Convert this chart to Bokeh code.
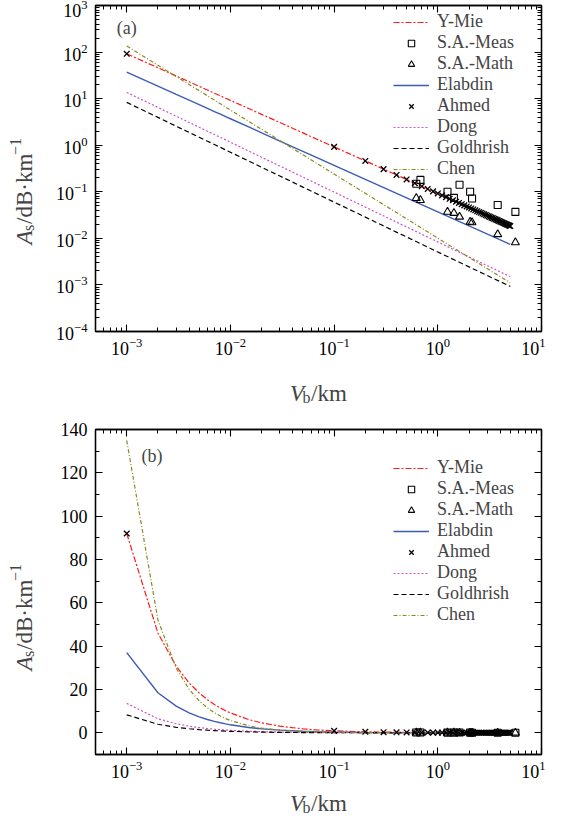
import math
from bokeh.plotting import figure
from bokeh.models import LogAxis, LinearAxis, FixedTicker, Label, Legend, LegendItem
from bokeh.layouts import column, row
from bokeh.embed import file_html
from bokeh.resources import INLINE

# ---------------- data ----------------
line_x = [0.001, 0.002, 0.003, 0.004, 0.005, 0.006, 0.007, 0.008, 0.009, 0.01,
          0.015, 0.02, 0.03, 0.05, 0.07, 0.1, 0.2, 0.5, 1.0, 2.0, 5.0]
ymie = [92, 46, 30.7, 23, 18.4, 15.3, 13.1, 11.5, 10.2, 9.2,
        6.13, 4.6, 3.07, 1.84, 1.31, 0.92, 0.46, 0.184, 0.092, 0.046, 0.0184]
elabdin = [37, 18.5, 12.3, 9.25, 7.4, 6.17, 5.29, 4.63, 4.11, 3.7,
           2.47, 1.85, 1.23, 0.74, 0.529, 0.37, 0.185, 0.074, 0.037, 0.0185, 0.0074]
dong = [13.6, 6.48, 4.20, 3.08, 2.43, 2.00, 1.70, 1.47, 1.30, 1.157,
        0.750, 0.551, 0.357, 0.207, 0.144, 0.0985, 0.0469, 0.0176, 0.00839, 0.00399, 0.0015]
goldhrish = [8.3, 3.96, 2.56, 1.88, 1.48, 1.22, 1.04, 0.90, 0.79, 0.706,
             0.458, 0.336, 0.218, 0.126, 0.088, 0.060, 0.0286, 0.0107, 0.0051, 0.00244, 0.00093]
chen = [135, 52.1, 29.8, 20.1, 14.8, 11.5, 9.30, 7.74, 6.58, 5.69,
        3.26, 2.195, 1.257, 0.623, 0.392, 0.240, 0.0926, 0.0263, 0.0101, 0.0039, 0.00111]

sa_x = [0.62, 0.68, 1.24, 1.43, 1.62, 2.05, 2.14, 3.78, 5.6]
sa_meas = [0.149, 0.18, 0.10, 0.074, 0.142, 0.10, 0.072, 0.052, 0.037]
sa_math = [0.073, 0.066, 0.037, 0.035, 0.029, 0.0226, 0.022, 0.0122, 0.0082]

ahmed_x = [0.001, 0.1, 0.2, 0.3, 0.4, 0.5, 0.6, 0.7, 0.8, 0.9, 1.0,
           1.1, 1.2, 1.3, 1.4, 1.5, 1.6, 1.7, 1.8, 1.9, 2.0,
           2.1, 2.2, 2.3, 2.4, 2.5, 2.6, 2.7, 2.8, 2.9, 3.0,
           3.1, 3.2, 3.3, 3.4, 3.5, 3.6, 3.7, 3.8, 3.9, 4.0,
           4.1, 4.2, 4.3, 4.4, 4.5, 4.6, 4.7, 4.8, 4.9, 5.0]
ahmed_y = [92, 0.92, 0.46, 0.307, 0.23, 0.184, 0.153, 0.131, 0.115, 0.102, 0.092,
           0.0836, 0.0767, 0.0708, 0.0657, 0.0613, 0.0575, 0.0541, 0.0511, 0.0484, 0.046,
           0.0438, 0.0418, 0.040, 0.0383, 0.0368, 0.0354, 0.0341, 0.0329, 0.0317, 0.0307,
           0.0297, 0.0288, 0.0279, 0.0271, 0.0263, 0.0256, 0.0249, 0.0242, 0.0236, 0.023,
           0.0224, 0.0219, 0.0214, 0.0209, 0.0204, 0.020, 0.0196, 0.0192, 0.0188, 0.0184]

x_major = [1e-3, 1e-2, 1e-1, 1e0, 1e1]
y_major_log = [1e-4, 1e-3, 1e-2, 1e-1, 1e0, 1e1, 1e2, 1e3]
y_major_lin = [0, 20, 40, 60, 80, 100, 120, 140]
y_minor_lin = [-10, 10, 30, 50, 70, 90, 110, 130]

FONT = "Liberation Serif"
TICK_FS = "18px"
LAB_FS = "23px"
SUB_FS = "16px"


def decade_minors(lo_exp, hi_exp):
    out = []
    for e in range(lo_exp, hi_exp):
        for m in range(2, 10):
            out.append(m * 10.0 ** e)
    return out


def style_axis(ax, ticker, show_labels, standoff=8):
    ax.ticker = ticker
    ax.major_tick_in = 7
    ax.major_tick_out = 0
    ax.minor_tick_in = 4
    ax.minor_tick_out = 0
    ax.axis_line_width = 1.3
    ax.major_tick_line_width = 1.1
    ax.minor_tick_line_width = 1.0
    ax.axis_line_color = "black"
    if show_labels:
        ax.major_label_text_font = FONT
        ax.major_label_text_font_size = TICK_FS
        ax.major_label_text_color = "black"
        ax.major_label_standoff = standoff
    else:
        ax.major_label_text_font_size = "1px"
        ax.major_label_text_alpha = 0
        ax.major_label_standoff = 0


def blank_fig(w, h):
    f = figure(width=w, height=h, x_range=(0, 1), y_range=(0, 1),
               x_axis_location=None, y_axis_location=None,
               toolbar_location=None, output_backend="svg", min_border=0)
    f.outline_line_color = None
    f.grid.visible = False
    f.background_fill_color = "white"
    f.border_fill_color = "white"
    return f


def xlabel_fig(h, base_y):
    f = blank_fig(545, h)
    x0 = 289.5
    f.add_layout(Label(x=x0, y=base_y, x_units="screen", y_units="screen", text="V",
                       text_font=FONT, text_font_style="italic", text_font_size=LAB_FS,
                       text_baseline="alphabetic"))
    f.add_layout(Label(x=x0 + 12.5, y=base_y - 3.5, x_units="screen", y_units="screen", text="b",
                       text_font=FONT, text_font_size=SUB_FS, text_baseline="alphabetic"))
    f.add_layout(Label(x=x0 + 21, y=base_y, x_units="screen", y_units="screen", text="/km",
                       text_font=FONT, text_font_size=LAB_FS, text_baseline="alphabetic"))
    return f


def ylabel_fig(h, start_y):
    f = blank_fig(48, h)
    bx = 24
    rot = math.pi / 2
    f.add_layout(Label(x=bx, y=start_y, x_units="screen", y_units="screen", text="A", angle=rot,
                       text_font=FONT, text_font_style="italic", text_font_size=LAB_FS,
                       text_baseline="alphabetic"))
    f.add_layout(Label(x=bx + 4, y=start_y + 13.5, x_units="screen", y_units="screen", text="s",
                       angle=rot, text_font=FONT, text_font_size=SUB_FS, text_baseline="alphabetic"))
    f.add_layout(Label(x=bx, y=start_y + 20.5, x_units="screen", y_units="screen", text="/dB·km",
                       angle=rot, text_font=FONT, text_font_size=LAB_FS, text_baseline="alphabetic"))
    f.add_layout(Label(x=bx - 9, y=start_y + 89.5, x_units="screen", y_units="screen", text="−1",
                       angle=rot, text_font=FONT, text_font_size=SUB_FS, text_baseline="alphabetic"))
    return f


def make_panel(log_y, height, top_border, bottom_border, panel_tag, tag_x, tag_y, legend_y):
    common = dict(width=497, height=height, x_axis_type="log", x_range=(5e-4, 10),
                  output_backend="svg", toolbar_location=None,
                  min_border_left=47, min_border_right=4,
                  min_border_top=top_border, min_border_bottom=bottom_border)
    if log_y:
        p = figure(y_axis_type="log", y_range=(1e-4, 1e3), **common)
        yt = FixedTicker(ticks=y_major_log, minor_ticks=decade_minors(-4, 3))
    else:
        p = figure(y_range=(-10, 140), **common)
        yt = FixedTicker(ticks=y_major_lin, minor_ticks=y_minor_lin)
    xt = FixedTicker(ticks=x_major, minor_ticks=decade_minors(-4, 1))

    p.xgrid.visible = False
    p.ygrid.visible = False
    p.outline_line_color = "black"
    p.outline_line_width = 1.3
    p.background_fill_color = "white"
    p.border_fill_color = "white"

    style_axis(p.xaxis[0], xt, True, standoff=6)
    style_axis(p.yaxis[0], yt, True, standoff=8)
    top_ax = LogAxis()
    style_axis(top_ax, xt, False)
    p.add_layout(top_ax, "above")
    right_ax = LogAxis() if log_y else LinearAxis()
    style_axis(right_ax, yt, False)
    p.add_layout(right_ax, "right")

    lw = 1.2
    r_ymie = p.line(line_x, ymie, line_color="#ff1a1a", line_width=lw, line_dash="6 2 2 2")
    r_elab = p.line(line_x, elabdin, line_color="#3d5db5", line_width=lw + 0.2)
    r_dong = p.line(line_x, dong, line_color="#d050c8", line_width=lw, line_dash="2 2")
    r_gold = p.line(line_x, goldhrish, line_color="black", line_width=lw, line_dash="5 3")
    r_chen = p.line(line_x, chen, line_color="#8a8a1c", line_width=lw, line_dash="4 2 1 2")
    r_meas = p.scatter(sa_x, sa_meas, marker="square", size=7, fill_color=None,
                       line_color="black", line_width=1.1)
    r_math = p.scatter(sa_x, sa_math, marker="triangle", size=8, fill_color=None,
                       line_color="black", line_width=1.1)
    r_ahm = p.scatter(ahmed_x, ahmed_y, marker="x", size=8, line_color="black", line_width=1.3)

    items = [
        LegendItem(label="Y-Mie", renderers=[r_ymie]),
        LegendItem(label="S.A.-Meas", renderers=[r_meas]),
        LegendItem(label="S.A.-Math", renderers=[r_math]),
        LegendItem(label="Elabdin", renderers=[r_elab]),
        LegendItem(label="Ahmed", renderers=[r_ahm]),
        LegendItem(label="Dong", renderers=[r_dong]),
        LegendItem(label="Goldhrish", renderers=[r_gold]),
        LegendItem(label="Chen", renderers=[r_chen]),
    ]
    leg = Legend(items=items, location=(298, legend_y), padding=0, margin=0, spacing=0,
                 glyph_width=36, glyph_height=16, label_height=20, label_standoff=8,
                 label_text_font=FONT, label_text_font_size="18px",
                 border_line_alpha=0, background_fill_alpha=0)
    p.add_layout(leg)

    p.add_layout(Label(x=tag_x, y=tag_y, text=panel_tag,
                       text_font=FONT, text_font_size="18px", text_baseline="middle"))
    return p


# panel (a): page y 8..373, frame 13..339
p1 = make_panel(True, 365, 5, 34, "(a)", 8.0e-4, 331, 152)
y1 = ylabel_fig(365, 87)
x1 = xlabel_fig(50, 22)
# panel (b): page y 423..792, frame 437..762
p2 = make_panel(False, 369, 14, 30, "(b)", 1.39e-3, 128, 129)
y2 = ylabel_fig(369, 84)
x2 = xlabel_fig(33, 14)

layout = column(row(y1, p1, spacing=0), x1, row(y2, p2, spacing=0), x2, spacing=0)
open("out.html", "w").write(file_html(layout, INLINE))
